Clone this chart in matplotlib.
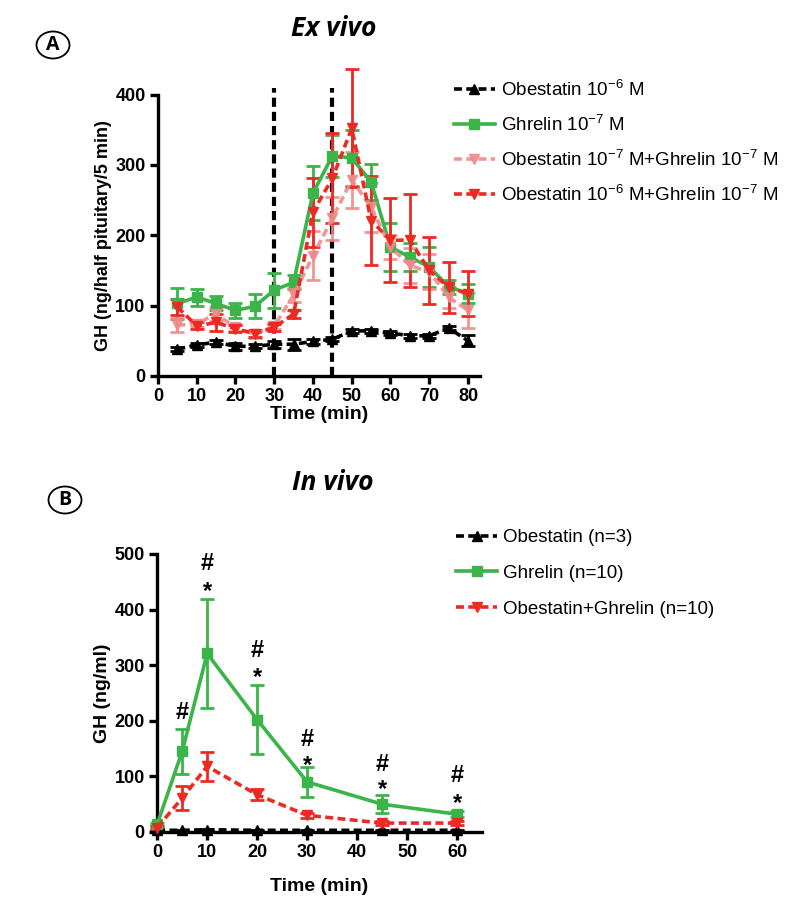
import matplotlib
matplotlib.use("Agg")
import matplotlib.pyplot as plt
from matplotlib.patches import Ellipse
from matplotlib.lines import Line2D

# ---- panel A data (ex vivo) ----
t_a = [5, 10, 15, 20, 25, 30, 35, 40, 45, 50, 55, 60, 65, 70, 75, 80]
obe6 = [38, 44, 48, 42, 42, 45, 45, 49, 52, 64, 64, 61, 57, 57, 68, 50]
obe6_err = [3, 3, 3, 5, 3, 5, 8, 3, 3, 3, 3, 3, 3, 3, 3, 8]
ghr = [103, 112, 103, 93, 99, 122, 133, 260, 313, 310, 276, 183, 169, 155, 127, 117]
ghr_err = [22, 12, 10, 10, 17, 25, 10, 38, 30, 40, 26, 34, 20, 29, 10, 14]
obe7_ghr = [72, 74, 88, 69, 59, 71, 115, 171, 224, 279, 240, 183, 157, 148, 112, 93]
obe7_ghr_err = [10, 5, 10, 5, 5, 5, 10, 35, 31, 40, 35, 17, 25, 25, 15, 25]
obe6_ghr = [98, 71, 76, 67, 60, 69, 88, 233, 281, 352, 221, 193, 193, 150, 126, 117]
obe6_ghr_err = [12, 5, 12, 5, 5, 5, 5, 49, 64, 84, 63, 60, 66, 48, 36, 32]
vlines_a = [30, 45]

# ---- panel B data (in vivo) ----
t_b = [0, 5, 10, 20, 30, 45, 60]
obe_b = [3, 3, 4, 3, 3, 3, 3]
obe_b_err = [1, 1, 2, 1, 1, 1, 1]
ghr_b = [14, 145, 321, 202, 90, 50, 32]
ghr_b_err = [3, 40, 98, 62, 27, 16, 5]
og_b = [8, 61, 118, 67, 30, 16, 16]
og_b_err = [2, 21, 26, 10, 4, 3, 3]
# significance marks: (time, label, y)
marks_t = [5, 10, 10, 20, 20, 30, 30, 45, 45, 60, 60]
marks_lab = ['#', '#', '*', '#', '*', '#', '*', '#', '*', '#', '*']
marks_y = [214, 482, 432, 326, 278, 167, 120, 122, 77, 101, 52]

GREEN = '#3bb44a'
RED = '#ec2a24'
PINK = '#f08a8a'
TICKF = ['Liberation Sans', 'DejaVu Sans']
LEGF = ['Liberation Sans', 'DejaVu Sans']

plt.rcParams['mathtext.fontset'] = 'custom'
plt.rcParams['mathtext.rm'] = 'Liberation Sans'
plt.rcParams['mathtext.default'] = 'rm'

fig = plt.figure(figsize=(7.98, 9.19), dpi=100)


def style_axes(ax):
    for s in ['top', 'right']:
        ax.spines[s].set_visible(False)
    for s in ['left', 'bottom']:
        ax.spines[s].set_linewidth(2.4)
    ax.tick_params(width=2.4, length=6, labelsize=13, pad=3)
    for lab in ax.get_xticklabels() + ax.get_yticklabels():
        lab.set_family(TICKF)
        lab.set_fontweight('bold')


def series(ax, x, y, e, color, marker, ls, ms=7, alpha=1.0):
    ax.errorbar(x, y, yerr=e, color=color, marker=marker, ms=ms, lw=2.6,
                ls=ls, dashes=(2.2, 1.2) if ls == '--' else (None, None),
                capsize=5, capthick=2, elinewidth=2,
                alpha=alpha, clip_on=False, zorder=3)
    return Line2D([], [], color=color, marker=marker, ms=ms, lw=2.6, ls=ls,
                  dashes=(2.2, 1.2) if ls == '--' else (None, None), alpha=alpha)


def add_legend(ax, handles, labels, ytop, spacing):
    ax.legend(handles, labels, loc='upper left', bbox_to_anchor=(0.92, ytop),
              frameon=False, prop={'family': LEGF, 'size': 13.5},
              handlelength=2.2, labelspacing=spacing, handletextpad=0.3,
              borderpad=0, borderaxespad=0)


def axis_text(ax, xl, yl, xpad, ypad, ysize):
    kw = dict(fontweight='bold', family=TICKF)
    ax.set_xlabel(xl, labelpad=xpad, fontsize=14, **kw)
    ax.set_ylabel(yl, labelpad=ypad, fontsize=ysize, **kw)


# ---------------- panel A ----------------
axA = fig.add_axes([0.198, 0.591, 0.403, 0.306])
for v in vlines_a:
    axA.plot([v, v], [0, 410], color='black', lw=3, ls=(0, (2.2, 1.2)),
             clip_on=False, zorder=2)
labels_a = ['Obestatin 10$^{-6}$ M', 'Ghrelin 10$^{-7}$ M',
            'Obestatin 10$^{-7}$ M+Ghrelin 10$^{-7}$ M',
            'Obestatin 10$^{-6}$ M+Ghrelin 10$^{-7}$ M']
hA = [series(axA, t_a, obe6, obe6_err, 'black', '^', '--'),
      series(axA, t_a, ghr, ghr_err, GREEN, 's', '-'),
      series(axA, t_a, obe7_ghr, obe7_ghr_err, PINK, 'v', '--', alpha=0.9),
      series(axA, t_a, obe6_ghr, obe6_ghr_err, RED, 'v', '--')]
axA.set_xlim(0, 83)
axA.set_ylim(0, 400)
axA.set_xticks(range(0, 81, 10))
axA.set_yticks(range(0, 401, 100))
style_axes(axA)
axis_text(axA, 'Time (min)', 'GH (ng/half pituitary/5 min)', 0.5, 2.5, 13)
add_legend(axA, hA, labels_a, 1.054, 0.8)

# ---------------- panel B ----------------
axB = fig.add_axes([0.197, 0.0947, 0.407, 0.3025])
labels_b = ['Obestatin (n=3)', 'Ghrelin (n=10)', 'Obestatin+Ghrelin (n=10)']
hB = [series(axB, t_b, obe_b, obe_b_err, 'black', '^', '--'),
      series(axB, t_b, ghr_b, ghr_b_err, GREEN, 's', '-'),
      series(axB, t_b, og_b, og_b_err, RED, 'v', '--')]
for xt, lab, yt in zip(marks_t, marks_lab, marks_y):
    axB.text(xt, yt, lab, ha='center', va='center', fontsize=17,
             family=LEGF, fontweight='bold')
axB.set_xlim(0, 65)
axB.set_ylim(0, 500)
axB.set_xticks(range(0, 61, 10))
axB.set_yticks(range(0, 501, 100))
style_axes(axB)
axis_text(axB, 'Time (min)', 'GH (ng/ml)', 12, 2.5, 14)
add_legend(axB, hB, labels_b, 1.09, 1.0)

# titles and panel letters
fig.text(334 / 798, 1 - 28 / 919, 'Ex vivo', ha='center', va='center', fontsize=19,
         fontweight='bold', style='italic', family=['Open Sans', 'DejaVu Sans'])
fig.text(333 / 798, 1 - 483 / 919, 'In vivo', ha='center', va='center', fontsize=19,
         fontweight='bold', style='italic', family=['Open Sans', 'DejaVu Sans'])
for (cx, cy, letter) in [(53, 45, 'A'), (65, 500, 'B')]:
    fx, fy = cx / 798, 1 - cy / 919
    fig.patches.append(Ellipse((fx, fy), 33 / 798, 27 / 919, transform=fig.transFigure,
                               fill=False, lw=1.3, ec='black'))
    fig.text(fx, fy, letter, ha='center', va='center', fontsize=14,
             fontweight='bold', family=['Open Sans', 'DejaVu Sans'])

fig.savefig('out.png', dpi=100)
